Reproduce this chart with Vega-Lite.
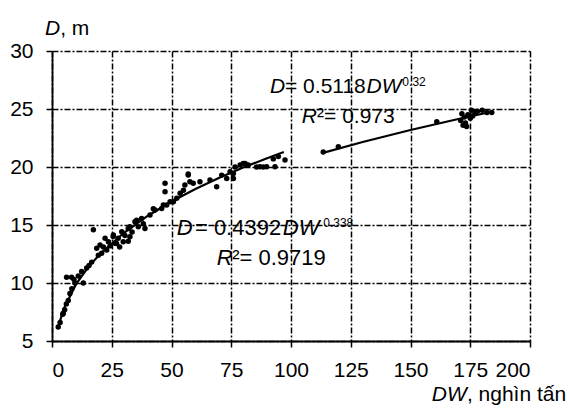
{
  "$schema": "https://vega.github.io/schema/vega-lite/v6.json",
  "autosize": "none",
  "width": 478,
  "height": 290,
  "padding": {"left": 52, "top": 51, "right": 40, "bottom": 70},
  "background": "white",
  "config": {
    "view": {"stroke": null},
    "font": "Liberation Sans",
    "text": {"font": "Liberation Sans", "color": "#000"}
  },
  "datasets": {
    "points": [
      {"DW": 2.6, "D": 6.2}, {"DW": 3.4, "D": 6.6}, {"DW": 4.5, "D": 7.3}, {"DW": 4.7, "D": 7.4},
      {"DW": 5.3, "D": 7.7}, {"DW": 6.0, "D": 8.2}, {"DW": 6.8, "D": 8.5}, {"DW": 7.5, "D": 9.1},
      {"DW": 8.3, "D": 9.5}, {"DW": 9.6, "D": 10.0}, {"DW": 6.1, "D": 10.5}, {"DW": 8.2, "D": 10.5},
      {"DW": 9.2, "D": 10.3}, {"DW": 11.0, "D": 10.6}, {"DW": 12.4, "D": 11.0}, {"DW": 13.1, "D": 10.0},
      {"DW": 14.5, "D": 11.3}, {"DW": 15.5, "D": 11.5}, {"DW": 16.6, "D": 11.8}, {"DW": 17.3, "D": 14.6},
      {"DW": 18.7, "D": 12.99}, {"DW": 19.4, "D": 12.4}, {"DW": 20.1, "D": 13.28}, {"DW": 20.8, "D": 12.56},
      {"DW": 21.5, "D": 13.1}, {"DW": 22.2, "D": 13.85}, {"DW": 22.9, "D": 12.84}, {"DW": 23.6, "D": 13.56},
      {"DW": 24.3, "D": 13.2}, {"DW": 25.6, "D": 14.0}, {"DW": 25.7, "D": 14.14}, {"DW": 26.4, "D": 13.42},
      {"DW": 27.0, "D": 13.4}, {"DW": 27.7, "D": 13.85}, {"DW": 28.3, "D": 13.1}, {"DW": 29.2, "D": 14.42},
      {"DW": 29.8, "D": 13.56}, {"DW": 30.5, "D": 14.1}, {"DW": 31.9, "D": 14.7}, {"DW": 31.9, "D": 13.6},
      {"DW": 32.6, "D": 13.99}, {"DW": 32.6, "D": 14.85}, {"DW": 33.5, "D": 14.4}, {"DW": 34.7, "D": 15.28},
      {"DW": 35.4, "D": 15.4}, {"DW": 36.1, "D": 14.85}, {"DW": 37.5, "D": 15.57}, {"DW": 38.2, "D": 15.1},
      {"DW": 38.9, "D": 14.7}, {"DW": 41.0, "D": 15.86}, {"DW": 42.4, "D": 16.4}, {"DW": 43.1, "D": 16.29},
      {"DW": 45.9, "D": 16.43}, {"DW": 46.6, "D": 16.72}, {"DW": 47.3, "D": 18.6}, {"DW": 47.3, "D": 17.87},
      {"DW": 48.0, "D": 16.72}, {"DW": 49.4, "D": 17.0}, {"DW": 50.8, "D": 17.0}, {"DW": 52.2, "D": 17.3},
      {"DW": 53.6, "D": 17.73}, {"DW": 55.0, "D": 18.0}, {"DW": 55.6, "D": 18.45}, {"DW": 57.0, "D": 19.3},
      {"DW": 57.0, "D": 19.4}, {"DW": 57.7, "D": 18.73}, {"DW": 59.1, "D": 18.6}, {"DW": 61.9, "D": 18.73},
      {"DW": 66.1, "D": 18.88}, {"DW": 68.9, "D": 18.3}, {"DW": 71.0, "D": 19.3}, {"DW": 73.1, "D": 19.0},
      {"DW": 74.5, "D": 19.6}, {"DW": 75.9, "D": 19.45}, {"DW": 75.9, "D": 19.0}, {"DW": 76.6, "D": 20.0},
      {"DW": 78.7, "D": 20.17}, {"DW": 80.0, "D": 20.3}, {"DW": 80.8, "D": 20.3}, {"DW": 82.1, "D": 20.17},
      {"DW": 85.6, "D": 20.0}, {"DW": 87.0, "D": 20.03}, {"DW": 88.4, "D": 20.0}, {"DW": 89.8, "D": 20.03},
      {"DW": 92.6, "D": 20.7}, {"DW": 93.3, "D": 20.03}, {"DW": 94.7, "D": 20.9}, {"DW": 97.5, "D": 20.6},
      {"DW": 113.5, "D": 21.3}, {"DW": 119.8, "D": 21.75}, {"DW": 161.0, "D": 23.9}, {"DW": 171.0, "D": 24.0},
      {"DW": 171.5, "D": 24.6}, {"DW": 172.0, "D": 23.6}, {"DW": 172.5, "D": 24.3}, {"DW": 173.0, "D": 23.8},
      {"DW": 173.5, "D": 23.5}, {"DW": 174.0, "D": 24.5}, {"DW": 175.0, "D": 24.2}, {"DW": 175.5, "D": 24.9},
      {"DW": 176.0, "D": 24.4}, {"DW": 177.0, "D": 24.7}, {"DW": 178.0, "D": 24.8}, {"DW": 180.0, "D": 24.9},
      {"DW": 182.0, "D": 24.7}, {"DW": 184.0, "D": 24.7}
    ],
    "curves": [
      {"series": "a", "DW": 2.5, "D": 6.18}, {"series": "a", "DW": 5, "D": 7.81}, {"series": "a", "DW": 10, "D": 9.88},
      {"series": "a", "DW": 15, "D": 11.33}, {"series": "a", "DW": 20, "D": 12.48}, {"series": "a", "DW": 30, "D": 14.31},
      {"series": "a", "DW": 40, "D": 15.78}, {"series": "a", "DW": 50, "D": 17.02}, {"series": "a", "DW": 60, "D": 18.10},
      {"series": "a", "DW": 70, "D": 19.07}, {"series": "a", "DW": 80, "D": 19.95}, {"series": "a", "DW": 90, "D": 20.76},
      {"series": "a", "DW": 97, "D": 21.29},
      {"series": "b", "DW": 113, "D": 21.2}, {"series": "b", "DW": 130, "D": 22.16}, {"series": "b", "DW": 150, "D": 23.19},
      {"series": "b", "DW": 170, "D": 24.14}, {"series": "b", "DW": 183, "D": 24.72}
    ],
    "one": [{}]
  },
  "layer": [
    {
      "data": {"name": "curves"},
      "mark": {"type": "line", "color": "#000", "strokeWidth": 2.2, "clip": false},
      "encoding": {
        "x": {"field": "DW", "type": "quantitative",
          "scale": {"domain": [0, 200], "nice": false, "zero": false},
          "axis": {"title": null, "values": [0, 25, 50, 75, 100, 125, 150, 175, 200],
            "labelFontSize": 21, "labelColor": "#000", "labelPadding": 12,
            "tickSize": 6, "tickColor": "#000", "tickWidth": 1.5,
            "domainColor": "#000", "domainWidth": 1.8,
            "grid": true, "gridColor": "#000", "gridDash": [6, 2, 2, 2], "gridWidth": 1.5}},
        "y": {"field": "D", "type": "quantitative",
          "scale": {"domain": [5, 30], "nice": false, "zero": false},
          "axis": {"title": null, "values": [5, 10, 15, 20, 25, 30],
            "labelFontSize": 21, "labelColor": "#000", "labelPadding": 13,
            "tickSize": 6, "tickColor": "#000", "tickWidth": 1.5,
            "domainColor": "#000", "domainWidth": 1.8,
            "grid": true, "gridColor": "#000", "gridDash": [6, 2, 2, 2], "gridWidth": 1.5}},
        "detail": {"field": "series"}
      }
    },
    {
      "data": {"name": "points"},
      "mark": {"type": "circle", "color": "#000", "opacity": 1, "size": 30},
      "encoding": {
        "x": {"field": "DW", "type": "quantitative"},
        "y": {"field": "D", "type": "quantitative"}
      }
    },
    {"data": {"name": "one"}, "mark": {"type": "text", "text": "D", "fontStyle": "italic", "fontSize": 22, "align": "left", "baseline": "alphabetic"},
      "encoding": {"x": {"datum": 52.2, "type": "quantitative"}, "y": {"datum": 14.14, "type": "quantitative"}}},
    {"data": {"name": "one"}, "mark": {"type": "text", "text": "= 0.4392", "fontSize": 22, "align": "left", "baseline": "alphabetic"},
      "encoding": {"x": {"datum": 59.8, "type": "quantitative"}, "y": {"datum": 14.14, "type": "quantitative"}}},
    {"data": {"name": "one"}, "mark": {"type": "text", "text": "DW", "fontStyle": "italic", "fontSize": 22, "align": "left", "baseline": "alphabetic"},
      "encoding": {"x": {"datum": 96.6, "type": "quantitative"}, "y": {"datum": 14.14, "type": "quantitative"}}},
    {"data": {"name": "one"}, "mark": {"type": "text", "text": "0.338", "fontSize": 12, "align": "left", "baseline": "alphabetic"},
      "encoding": {"x": {"datum": 113.5, "type": "quantitative"}, "y": {"datum": 14.83, "type": "quantitative"}}},
    {"data": {"name": "one"}, "mark": {"type": "text", "text": "R", "fontStyle": "italic", "fontSize": 22, "align": "left", "baseline": "alphabetic"},
      "encoding": {"x": {"datum": 68.9, "type": "quantitative"}, "y": {"datum": 11.55, "type": "quantitative"}}},
    {"data": {"name": "one"}, "mark": {"type": "text", "text": "²= 0.9719", "fontSize": 22, "align": "left", "baseline": "alphabetic"},
      "encoding": {"x": {"datum": 75.4, "type": "quantitative"}, "y": {"datum": 11.55, "type": "quantitative"}}},
    {"data": {"name": "one"}, "mark": {"type": "text", "text": "D", "fontStyle": "italic", "fontSize": 21, "align": "left", "baseline": "alphabetic"},
      "encoding": {"x": {"datum": 91.2, "type": "quantitative"}, "y": {"datum": 26.38, "type": "quantitative"}}},
    {"data": {"name": "one"}, "mark": {"type": "text", "text": "= 0.5118", "fontSize": 21, "align": "left", "baseline": "alphabetic"},
      "encoding": {"x": {"datum": 97.5, "type": "quantitative"}, "y": {"datum": 26.38, "type": "quantitative"}}},
    {"data": {"name": "one"}, "mark": {"type": "text", "text": "DW", "fontStyle": "italic", "fontSize": 21, "align": "left", "baseline": "alphabetic"},
      "encoding": {"x": {"datum": 131.6, "type": "quantitative"}, "y": {"datum": 26.38, "type": "quantitative"}}},
    {"data": {"name": "one"}, "mark": {"type": "text", "text": "0.32", "fontSize": 12, "align": "left", "baseline": "alphabetic"},
      "encoding": {"x": {"datum": 146.6, "type": "quantitative"}, "y": {"datum": 26.98, "type": "quantitative"}}},
    {"data": {"name": "one"}, "mark": {"type": "text", "text": "R", "fontStyle": "italic", "fontSize": 21, "align": "left", "baseline": "alphabetic"},
      "encoding": {"x": {"datum": 104.5, "type": "quantitative"}, "y": {"datum": 23.79, "type": "quantitative"}}},
    {"data": {"name": "one"}, "mark": {"type": "text", "text": "²= 0.973", "fontSize": 21, "align": "left", "baseline": "alphabetic"},
      "encoding": {"x": {"datum": 110.9, "type": "quantitative"}, "y": {"datum": 23.79, "type": "quantitative"}}},
    {"data": {"name": "one"}, "mark": {"type": "text", "text": "D", "fontStyle": "italic", "fontSize": 21, "align": "left", "baseline": "alphabetic"},
      "encoding": {"x": {"datum": -2.9, "type": "quantitative"}, "y": {"datum": 31.38, "type": "quantitative"}}},
    {"data": {"name": "one"}, "mark": {"type": "text", "text": ", m", "fontSize": 21, "align": "left", "baseline": "alphabetic"},
      "encoding": {"x": {"datum": 3.4, "type": "quantitative"}, "y": {"datum": 31.38, "type": "quantitative"}}},
    {"data": {"name": "one"}, "mark": {"type": "text", "text": "DW", "fontStyle": "italic", "fontSize": 21, "align": "left", "baseline": "alphabetic"},
      "encoding": {"x": {"datum": 158.9, "type": "quantitative"}, "y": {"datum": -0.15, "type": "quantitative"}}},
    {"data": {"name": "one"}, "mark": {"type": "text", "text": ", nghìn tấn", "fontSize": 21, "align": "left", "baseline": "alphabetic"},
      "encoding": {"x": {"datum": 173.6, "type": "quantitative"}, "y": {"datum": -0.15, "type": "quantitative"}}}
  ]
}
